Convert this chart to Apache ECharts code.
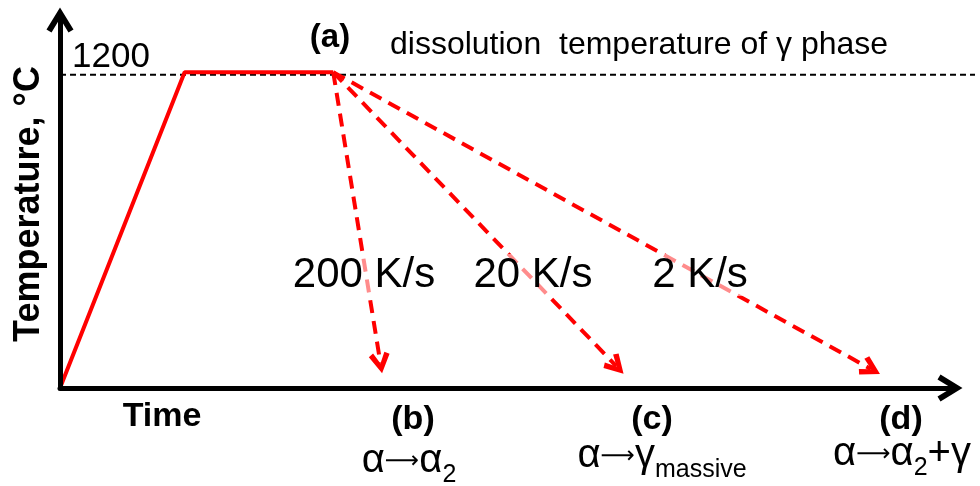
<!DOCTYPE html>
<html>
<head>
<meta charset="utf-8">
<script src="https://cdn.jsdelivr.net/npm/echarts@6/dist/echarts.min.js"></script>
<style>
  html, body { margin: 0; padding: 0; background: #fff; }
  #chart { width: 980px; height: 486px; }
</style>
</head>
<body>
<div id="chart"></div>
<script>
// heating + holding profile (time: arbitrary units, temperature in °C)
const heatTime = [0, 14.0, 30.7];
const heatTemp = [0, 1210, 1210];

// cooling paths, all starting at the end of holding
const coolRates = ['200 K/s', '20 K/s', '2 K/s'];
const coolStart = [30.7, 1210];
const coolEndTime = [36.0, 62.5, 91.1];
const coolEndTemp = [96, 84, 73];

// dissolution temperature line (runs a little past the time arrow)
const dissolutionTemp = 1200;
const dissolutionLine = [0, 102.8];
const yTickLabels = { 1200: '1200' };

const phaseTags = ['(b)', '(c)', '(d)'];
const phaseText = [
  '{m|α}{a|⟶}{m|α}{s|2}',
  '{m|α}{a|⟶}{m|γ}{s|massive}',
  '{m|α}{a|⟶}{m|α}{s|2}{m|+γ}'
];

const FONT = 'Liberation Sans, Arial, sans-serif';
const RED = '#ff0000';

// open chevron heads (pointing up, rotated by echarts)
const axisHead = 'path://M13.5,0 L27,22 L22,25 L13.5,11 L5,25 L0,22 Z';
const lineHead = 'path://M11,0 L22,18 L17,21 L11,10 L5,21 L0,18 Z';

let chart = echarts.init(document.getElementById('chart'));

let coolData = coolEndTime.map((t, i) => ({
  coords: [coolStart, [t, coolEndTemp[i]]]
}));

let rich = {
  m: { fontFamily: FONT, fontSize: 40, color: '#000', lineHeight: 40, verticalAlign: 'top' },
  a: { fontFamily: 'DejaVu Sans', fontSize: 24, color: '#000', verticalAlign: 'top', padding: [9, 0, 0, 0] },
  s: { fontFamily: FONT, fontSize: 25, color: '#000', lineHeight: 68, verticalAlign: 'middle' }
};

let tagX = [413, 652, 901];
let phaseX = [409, 662, 902];
let phaseY = [475, 470, 468];
let rateX = [364, 533, 700];

let graphics = [
  { type: 'text', x: 330, y: 38, z: 100,
    style: { text: '(a)', font: 'bold 33px ' + FONT, fill: '#000', align: 'center', verticalAlign: 'middle' } },
  { type: 'text', x: 390, y: 45, z: 100,
    style: { text: 'dissolution  temperature of γ phase', font: '32px ' + FONT, fill: '#000', align: 'left', verticalAlign: 'middle' } },
  { type: 'text', x: 162, y: 417, z: 100,
    style: { text: 'Time', font: 'bold 34px ' + FONT, fill: '#000', align: 'center', verticalAlign: 'middle' } }
];
coolRates.forEach((r, i) => {
  graphics.push({ type: 'text', x: rateX[i], y: 275, z: 100,
    style: { text: r, font: '42px ' + FONT, fill: '#000', align: 'center', verticalAlign: 'middle',
      backgroundColor: 'rgba(255,255,255,0.55)' } });
});
phaseTags.forEach((t, i) => {
  graphics.push({ type: 'text', x: tagX[i], y: 420, z: 100,
    style: { text: t, font: 'bold 34px ' + FONT, fill: '#000', align: 'center', verticalAlign: 'middle' } });
  graphics.push({ type: 'text', x: phaseX[i], y: phaseY[i], z: 100,
    style: { text: phaseText[i], rich: rich, align: 'center', verticalAlign: 'middle' } });
});

chart.setOption({
  animation: false,
  backgroundColor: '#fff',
  grid: [
    { left: 60, right: 30, top: 20, bottom: 98 },
    { left: 60, right: 5, top: 20, bottom: 98 }
  ],
  xAxis: [
    {
      type: 'value', min: 0, max: 100,
      axisLine: { show: true, symbol: ['none', axisHead], symbolSize: [27, 25],
        lineStyle: { color: '#000', width: 5 } },
      axisTick: { show: false },
      axisLabel: { show: false },
      splitLine: { show: false },
      z: 5
    },
    { type: 'value', gridIndex: 1, min: 0, max: 102.8, show: false }
  ],
  yAxis: [
    {
      type: 'value', min: 0, max: 1410, interval: 1200,
      name: 'Temperature, °C',
      nameLocation: 'middle',
      nameRotate: 90,
      nameGap: 13,
      nameTextStyle: { fontFamily: FONT, fontSize: 36, fontWeight: 'bold', color: '#000' },
      axisLine: { show: true, symbol: ['none', axisHead], symbolSize: [27, 25],
        lineStyle: { color: '#000', width: 5 } },
      axisTick: { show: false },
      axisLabel: {
        inside: true, margin: 12, verticalAlign: 'bottom',
        fontFamily: FONT, fontSize: 35, color: '#000',
        formatter: v => yTickLabels[v] || ''
      },
      splitLine: { show: false },
      z: 5
    },
    { type: 'value', gridIndex: 1, min: 0, max: 1410, show: false }
  ],
  series: [
    {
      type: 'line',
      xAxisIndex: 1, yAxisIndex: 1,
      data: dissolutionLine.map(t => [t, dissolutionTemp]),
      symbol: 'none',
      lineStyle: { color: '#000', width: 2, type: [6, 4] },
      z: 1
    },
    {
      type: 'line',
      data: heatTime.map((t, i) => [t, heatTemp[i]]),
      symbol: 'none',
      lineStyle: { color: RED, width: 4 },
      z: 3
    },
    {
      type: 'lines',
      coordinateSystem: 'cartesian2d',
      data: coolData,
      symbol: ['none', lineHead],
      symbolSize: [22, 21],
      lineStyle: { color: RED, width: 4, type: [13, 8], opacity: 1 },
      z: 3
    }
  ],
  graphic: graphics
});
</script>
</body>
</html>
